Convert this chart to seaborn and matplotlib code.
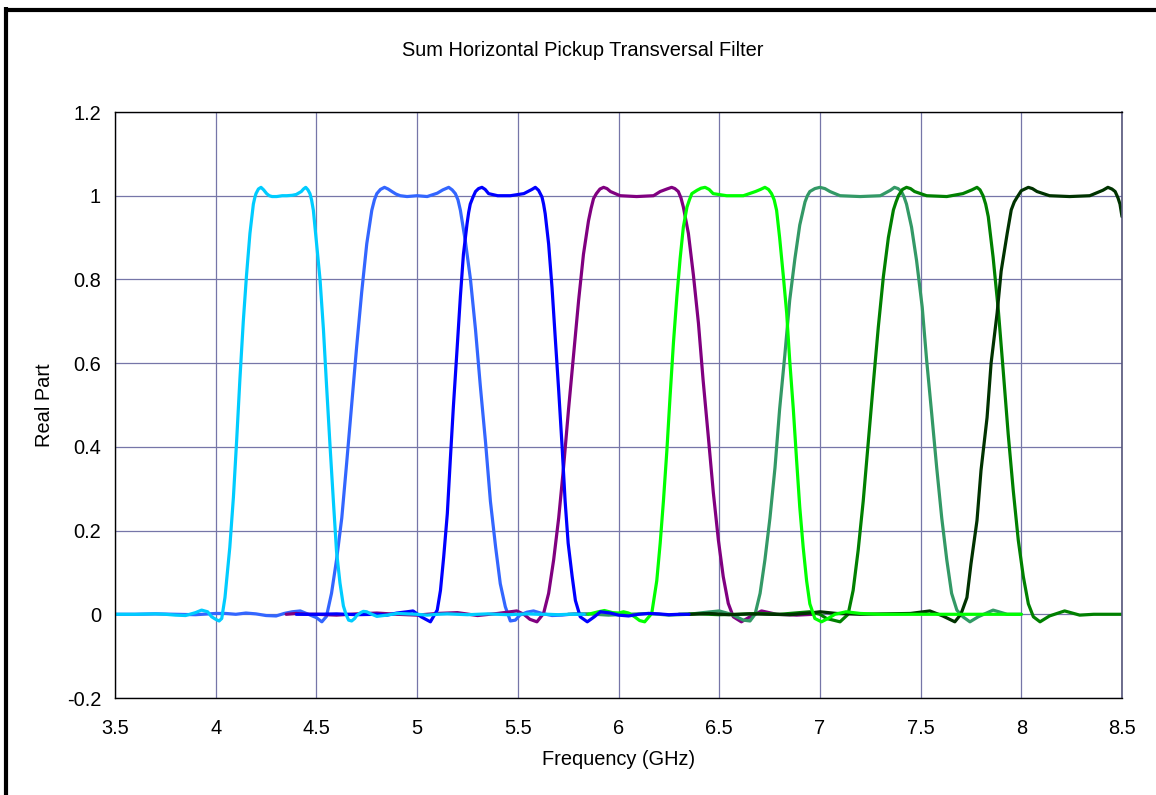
import numpy as np
import pandas as pd
import matplotlib
matplotlib.use("Agg")
import matplotlib.pyplot as plt
from matplotlib.lines import Line2D
import seaborn as sns

# ---------------- data ----------------
cyan_x = [3.5, 3.6, 3.7, 3.75, 3.8, 3.85, 3.9, 3.93, 3.96, 3.98, 4.0, 4.017, 4.03, 4.046, 4.07, 4.088, 4.104,
          4.12, 4.137, 4.153, 4.17, 4.187, 4.194, 4.2, 4.212, 4.225, 4.238, 4.253, 4.266, 4.28, 4.303, 4.33, 4.353,
          4.38, 4.40, 4.425, 4.436, 4.447, 4.458, 4.468, 4.476, 4.485, 4.5, 4.518, 4.535, 4.55, 4.568, 4.585, 4.60,
          4.617, 4.634, 4.647, 4.66, 4.675, 4.69, 4.70, 4.72, 4.733, 4.75, 4.766, 4.80, 4.85, 4.9, 4.95, 5.0, 5.05,
          5.1, 5.15, 5.2, 5.25, 5.3, 5.35, 5.4, 5.45, 5.5, 5.55, 5.6, 5.65, 5.7, 5.75, 5.8, 5.83]
cyan_y = [0.0, 0.0, 0.001, 0.0, -0.002, -0.003, 0.004, 0.01, 0.006, -0.006, -0.012, -0.016, -0.01, 0.04, 0.16,
          0.28, 0.415, 0.56, 0.70, 0.81, 0.91, 0.98, 0.995, 1.005, 1.016, 1.02, 1.014, 1.005, 1.0, 0.998, 0.998,
          1.0, 1.0, 1.001, 1.003, 1.01, 1.016, 1.02, 1.014, 1.005, 0.99, 0.965, 0.89, 0.80, 0.68, 0.55, 0.40,
          0.265, 0.15, 0.075, 0.02, 0.0, -0.014, -0.016, -0.01, -0.003, 0.004, 0.007, 0.006, 0.002, -0.005,
          -0.002, 0.002, 0.001, 0.0, -0.002, 0.0, 0.001, 0.0, -0.001, 0.0, 0.001, 0.0, -0.001, 0.0, 0.001, 0.0,
          0.0, -0.001, 0.0, 0.0, 0.0]

rblue_x = [3.5, 3.6, 3.7, 3.8, 3.9, 4.0, 4.05, 4.1, 4.15, 4.2, 4.25, 4.3, 4.34, 4.38, 4.42, 4.46, 4.5, 4.527, 4.55,
           4.575, 4.6, 4.626, 4.65, 4.675, 4.70, 4.725, 4.75, 4.775, 4.788, 4.80, 4.818, 4.838, 4.856, 4.875, 4.895,
           4.916, 4.95, 5.0, 5.05, 5.1, 5.128, 5.157, 5.174, 5.19, 5.203, 5.215, 5.24, 5.265, 5.29, 5.314, 5.34,
           5.364, 5.39, 5.413, 5.438, 5.463, 5.488, 5.51, 5.545, 5.578, 5.62, 5.67, 5.72, 5.78, 5.85]
rblue_y = [0.0, 0.0, 0.001, 0.0, -0.001, 0.002, 0.002, 0.0, 0.003, 0.001, -0.003, -0.004, 0.002, 0.006, 0.008, 0.0,
           -0.008, -0.018, -0.005, 0.05, 0.13, 0.23, 0.36, 0.50, 0.64, 0.77, 0.885, 0.965, 0.99, 1.005, 1.015,
           1.02, 1.016, 1.01, 1.004, 1.0, 0.998, 1.0, 0.998, 1.006, 1.014, 1.02, 1.014, 1.005, 0.99, 0.965, 0.89,
           0.80, 0.68, 0.545, 0.41, 0.27, 0.16, 0.073, 0.018, -0.016, -0.014, -0.002, 0.005, 0.008, 0.002, -0.003,
           -0.002, 0.001, 0.0]

blue_x = [4.4, 4.5, 4.6, 4.7, 4.8, 4.85, 4.9, 4.95, 4.98, 5.02, 5.066, 5.1, 5.116, 5.132, 5.15, 5.165, 5.18, 5.198,
          5.215, 5.23, 5.248, 5.256, 5.264, 5.277, 5.29, 5.305, 5.322, 5.338, 5.355, 5.4, 5.463, 5.53, 5.57, 5.587,
          5.603, 5.62, 5.628, 5.636, 5.653, 5.67, 5.686, 5.703, 5.72, 5.735, 5.75, 5.77, 5.786, 5.81, 5.845, 5.88,
          5.91, 5.96, 6.0, 6.05, 6.1, 6.15, 6.2, 6.25, 6.3, 6.35]
blue_y = [0.0, 0.0, 0.001, -0.001, 0.0, -0.002, 0.003, 0.006, 0.008, -0.006, -0.018, 0.01, 0.057, 0.137, 0.24,
          0.37, 0.495, 0.63, 0.76, 0.86, 0.933, 0.96, 0.98, 0.996, 1.01, 1.017, 1.02, 1.015, 1.005, 1.0, 1.0,
          1.005, 1.015, 1.02, 1.013, 0.997, 0.98, 0.957, 0.885, 0.78, 0.66, 0.535, 0.40, 0.27, 0.17, 0.09, 0.033,
          -0.006, -0.018, -0.006, 0.006, 0.003, -0.002, -0.004, 0.0, 0.002, 0.001, -0.001, 0.0, 0.0]

purple_x = [4.35, 4.4, 4.45, 4.5, 4.6, 4.7, 4.8, 4.9, 5.0, 5.1, 5.2, 5.3, 5.4, 5.463, 5.495, 5.53, 5.56, 5.595,
            5.628, 5.653, 5.678, 5.703, 5.727, 5.752, 5.777, 5.802, 5.826, 5.851, 5.864, 5.876, 5.89, 5.908, 5.926,
            5.943, 5.96, 6.008, 6.09, 6.174, 6.207, 6.24, 6.264, 6.28, 6.297, 6.31, 6.322, 6.347, 6.372, 6.397,
            6.42, 6.446, 6.471, 6.496, 6.52, 6.545, 6.57, 6.61, 6.653, 6.71, 6.785, 6.884, 6.97]
purple_y = [0.0, 0.002, 0.0, 0.0, -0.002, 0.001, 0.003, 0.0, -0.002, 0.002, 0.004, -0.003, 0.002, 0.006, 0.008,
            0.0, -0.012, -0.018, 0.002, 0.05, 0.13, 0.23, 0.35, 0.49, 0.62, 0.75, 0.86, 0.94, 0.97, 0.993, 1.005,
            1.016, 1.02, 1.017, 1.01, 1.0, 0.998, 1.0, 1.01, 1.016, 1.02, 1.017, 1.01, 0.995, 0.973, 0.91, 0.81,
            0.695, 0.56, 0.424, 0.29, 0.177, 0.09, 0.026, -0.006, -0.018, -0.006, 0.008, 0.0, -0.002, 0.0]

lgreen_x = [5.85, 5.9, 5.93, 5.97, 6.0, 6.025, 6.05, 6.08, 6.105, 6.13, 6.165, 6.19, 6.207, 6.223, 6.24, 6.256,
            6.273, 6.29, 6.306, 6.322, 6.34, 6.352, 6.364, 6.39, 6.41, 6.43, 6.45, 6.47, 6.537, 6.62, 6.68, 6.705,
            6.727, 6.745, 6.76, 6.773, 6.785, 6.80, 6.818, 6.835, 6.85, 6.868, 6.884, 6.90, 6.917, 6.934, 6.95,
            6.975, 7.008, 7.04, 7.075, 7.13, 7.2, 7.3, 7.4, 7.5, 7.6, 7.7, 7.8, 7.9, 8.0]
lgreen_y = [0.0, 0.006, 0.009, 0.004, 0.003, 0.006, 0.003, -0.006, -0.015, -0.018, 0.002, 0.08, 0.17, 0.27, 0.39,
            0.52, 0.65, 0.76, 0.85, 0.925, 0.973, 0.99, 1.005, 1.013, 1.018, 1.02, 1.015, 1.005, 1.0, 1.0, 1.01,
            1.015, 1.02, 1.015, 1.005, 0.99, 0.965, 0.90, 0.81, 0.72, 0.607, 0.49, 0.37, 0.256, 0.16, 0.08, 0.025,
            -0.01, -0.018, -0.01, 0.0, 0.006, 0.002, 0.0, 0.0, 0.0, 0.0, 0.0, 0.0, 0.0, 0.0]

teal_x = [5.75, 5.85, 5.95, 6.05, 6.15, 6.25, 6.35, 6.42, 6.5, 6.56, 6.62, 6.653, 6.678, 6.703, 6.727, 6.752,
          6.777, 6.80, 6.826, 6.85, 6.876, 6.90, 6.926, 6.938, 6.95, 6.975, 7.0, 7.025, 7.05, 7.1, 7.2, 7.3, 7.35,
          7.37, 7.388, 7.405, 7.418, 7.43, 7.455, 7.48, 7.508, 7.53, 7.555, 7.58, 7.605, 7.63, 7.654, 7.68, 7.71,
          7.745, 7.786, 7.86, 7.93, 8.0]
teal_y = [0.0, 0.001, -0.002, 0.0, 0.002, -0.002, 0.0, 0.004, 0.008, 0.0, -0.014, -0.016, 0.0, 0.05, 0.13, 0.23,
          0.35, 0.49, 0.62, 0.75, 0.85, 0.93, 0.985, 1.0, 1.01, 1.017, 1.02, 1.017, 1.01, 1.0, 0.998, 1.0, 1.013,
          1.02, 1.017, 1.01, 0.997, 0.98, 0.925, 0.845, 0.734, 0.607, 0.48, 0.35, 0.23, 0.13, 0.05, 0.01, -0.006,
          -0.018, -0.006, 0.01, 0.0, 0.0]

green_x = [6.3, 6.4, 6.5, 6.6, 6.7, 6.8, 6.9, 6.95, 7.0, 7.033, 7.1, 7.14, 7.165, 7.19, 7.215, 7.24, 7.265, 7.29,
           7.315, 7.34, 7.365, 7.378, 7.39, 7.41, 7.43, 7.45, 7.47, 7.53, 7.63, 7.71, 7.755, 7.78, 7.795, 7.81,
           7.823, 7.836, 7.86, 7.886, 7.91, 7.935, 7.96, 7.985, 8.01, 8.035, 8.06, 8.093, 8.14, 8.215, 8.29, 8.36,
           8.43, 8.5]
green_y = [0.0, 0.001, -0.001, 0.0, 0.002, 0.0, 0.004, 0.006, 0.0, -0.01, -0.018, 0.0, 0.057, 0.153, 0.27, 0.41,
           0.55, 0.686, 0.806, 0.90, 0.966, 0.985, 1.0, 1.015, 1.02, 1.017, 1.01, 1.0, 0.998, 1.005, 1.014, 1.02,
           1.014, 1.0, 0.98, 0.95, 0.853, 0.726, 0.583, 0.43, 0.296, 0.177, 0.09, 0.025, -0.006, -0.018, -0.004,
           0.008, -0.002, 0.0, 0.0, 0.0]

dgreen_x = [6.35, 6.45, 6.55, 6.65, 6.75, 6.85, 6.95, 7.0, 7.083, 7.2, 7.33, 7.45, 7.546, 7.61, 7.67, 7.70, 7.73,
            7.75, 7.78, 7.80, 7.83, 7.85, 7.88, 7.90, 7.93, 7.95, 7.965, 7.98, 8.0, 8.035, 8.055, 8.078, 8.14,
            8.24, 8.34, 8.405, 8.43, 8.45, 8.466, 8.48, 8.49, 8.5]
dgreen_y = [0.0, 0.002, -0.001, 0.001, 0.0, -0.001, 0.003, 0.006, 0.002, 0.0, 0.001, 0.002, 0.008, -0.004,
            -0.018, 0.0, 0.04, 0.12, 0.224, 0.344, 0.47, 0.60, 0.72, 0.82, 0.91, 0.966, 0.985, 0.997, 1.012, 1.02,
            1.017, 1.01, 1.0, 0.998, 1.0, 1.013, 1.02, 1.016, 1.01, 0.995, 0.98, 0.95]

# draw order (later = on top) and colours
series_names = ["Filter 2", "Filter 4", "Filter 6", "Filter 7", "Filter 8", "Filter 5", "Filter 3", "Filter 1"]
series_x = [rblue_x, purple_x, teal_x, green_x, dgreen_x, lgreen_x, blue_x, cyan_x]
series_y = [rblue_y, purple_y, teal_y, green_y, dgreen_y, lgreen_y, blue_y, cyan_y]
series_colors = ["#3366FF", "#800080", "#339966", "#008000", "#003300", "#00FF00", "#0000FF", "#00CCFF"]

x_ticks = [3.5, 4, 4.5, 5, 5.5, 6, 6.5, 7, 7.5, 8, 8.5]
y_ticks = [-0.2, 0, 0.2, 0.4, 0.6, 0.8, 1, 1.2]

title = "Sum Horizontal Pickup Transversal Filter"
x_label = "Frequency (GHz)"
y_label = "Real Part"

# ---------------- plotting ----------------
frames = []
for name, xs, ys in zip(series_names, series_x, series_y):
    frames.append(pd.DataFrame({"freq": xs, "val": ys, "series": name}))
df = pd.concat(frames, ignore_index=True)

sns.set_style("white")
plt.rcParams["font.family"] = ["Liberation Sans", "DejaVu Sans"]

FS = 14.4
W, H = 1156, 795
fig = plt.figure(figsize=(W / 100, H / 100), dpi=100)
L, R, T, B = 115, 1122, 112, 698
ax = fig.add_axes([L / W, 1 - B / H, (R - L) / W, (B - T) / H])

sns.lineplot(data=df, x="freq", y="val", hue="series", hue_order=series_names,
             palette=dict(zip(series_names, series_colors)), sort=True, estimator=None,
             linewidth=2.3, legend=False, ax=ax)

ax.set_xlim(3.5, 8.5)
ax.set_ylim(-0.2, 1.2)
ax.set_xticks(x_ticks)
ax.set_yticks(y_ticks)
ax.set_xticklabels([f"{v:g}" for v in x_ticks])
ax.set_yticklabels([f"{v:g}" for v in y_ticks])
ax.grid(True, color="#7676A8", linewidth=0.9)
ax.set_axisbelow(True)

for s in ["left", "bottom", "top"]:
    ax.spines[s].set_color("black")
    ax.spines[s].set_linewidth(1.0)
ax.spines["right"].set_color("#55557a")
ax.spines["right"].set_linewidth(1.2)

ax.tick_params(axis="both", direction="out", length=5, width=1, color="black",
               labelsize=FS, labelcolor="black")
ax.tick_params(axis="x", pad=10)
ax.tick_params(axis="y", pad=5)

ax.set_xlabel(x_label, fontsize=FS, color="black")
ax.set_ylabel(y_label, fontsize=FS, color="black")
ax.xaxis.set_label_coords(0.5, -0.089)
ax.yaxis.set_label_coords(-0.061, 0.5)

fig.text(583 / W, 1 - 50 / H, title, ha="center", va="center", fontsize=FS, color="black")

# outer chart border (thick black, left and top visible)
fig.add_artist(Line2D([5.5 / W, 5.5 / W], [0, 1 - 7 / H], transform=fig.transFigure,
                      color="black", linewidth=3.0, solid_capstyle="butt"))
fig.add_artist(Line2D([4 / W, 1], [1 - 9.5 / H, 1 - 9.5 / H], transform=fig.transFigure,
                      color="black", linewidth=3.0, solid_capstyle="butt"))

fig.savefig("out.png", dpi=100, facecolor="white")
